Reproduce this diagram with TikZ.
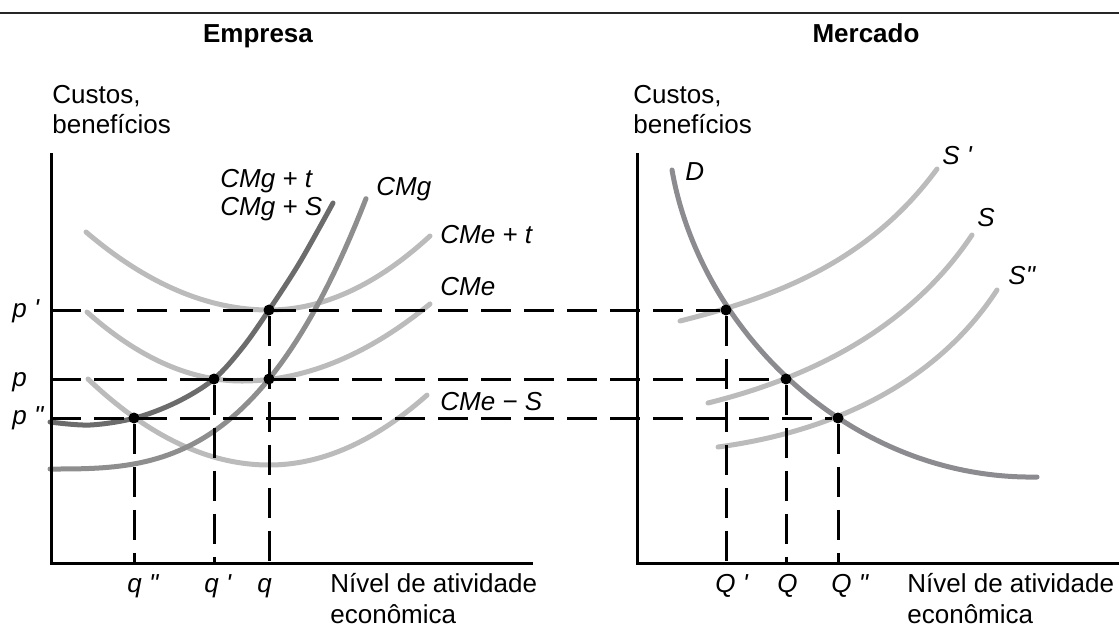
\documentclass[tikz,border=0pt]{standalone}
\usepackage{fontspec}
\setmainfont{Liberation Sans}
\definecolor{cLight}{HTML}{BBBBBB}
\definecolor{cMid}{HTML}{8E8E8E}
\definecolor{cDark}{HTML}{6C6C6C}
\definecolor{cD}{HTML}{8C8C90}
\tikzset{
  lbl/.style={inner sep=0pt, anchor=base west, font=\fontsize{13}{15}\selectfont},
  ilbl/.style={inner sep=0pt, anchor=base west, font=\fontsize{13}{15}\selectfont\itshape},
  ttl/.style={inner sep=0pt, anchor=base, font=\fontsize{13}{15}\selectfont\bfseries},
  ax/.style={line width=1.5pt, black},
  guide/.style={line width=1.5pt, black, dash pattern=on 15pt off 6.5pt},
  crv/.style={line width=2.5pt, line cap=round, line join=round},
  dotm/.style={circle, fill=black, inner sep=0pt, minimum size=5.5pt},
}
\begin{document}
\begin{tikzpicture}[x=0.5pt, y=-0.5pt]
\useasboundingbox (0,0) rectangle (1119,628);
% top rule
\coordinate (r0) at (0,13);
\coordinate (r1) at (1119,13);
\draw[line width=1.3pt, black!85] (r0) -- (r1);
% titles
\node[ttl] (tE) at (258,42) {Empresa};
\node[ttl] (tM) at (866,42) {Mercado};
% axis titles
\node[lbl] (yL1) at (52,103) {Custos,};
\node[lbl] (yL2) at (52,133) {benefícios};
\node[lbl] (yR1) at (633,103) {Custos,};
\node[lbl] (yR2) at (633,133) {benefícios};
\node[lbl] (xL1) at (330,592) {Nível de atividade};
\node[lbl] (xL2) at (330,623) {econômica};
\node[lbl] (xR1) at (907,592) {Nível de atividade};
\node[lbl] (xR2) at (907,623) {econômica};
% axes
\coordinate (LT) at (51,153);
\coordinate (LO) at (51,563);
\coordinate (LR) at (533,563);
\coordinate (RT) at (637,153);
\coordinate (RO) at (637,563);
\coordinate (RR) at (1119,563);
% curves, firm
\draw[crv, cLight]
  plot[domain=86:269, samples=40] (\x,{310-23.29*((\x-269)/100)*((\x-269)/100)})
  -- plot[domain=269:430, samples=40] (\x,{310-28.55*((\x-269)/100)*((\x-269)/100)});
\draw[crv, cLight]
  plot[domain=87:242, samples=40] (\x,{381-28.7*((\x-242)/100)*((\x-242)/100)})
  -- plot[domain=242:430, samples=40] (\x,{381-21.8*((\x-242)/100)*((\x-242)/100)});
\draw[crv, cLight]
  plot[domain=88:269, samples=40] (\x,{465-26.25*((\x-269)/100)*((\x-269)/100)})
  -- plot[domain=269:427, samples=40] (\x,{465-28.0*((\x-269)/100)*((\x-269)/100)});
\draw[crv, cMid]
  plot[domain=50:366, samples=60] (\x,{469-8.57*((\x-50)/100)*((\x-50)/100)*((\x-50)/100)});
\draw[crv, cDark] plot[smooth, tension=0.55] coordinates {(50,422) (90,425) (135,418) (177,402) (214,379) (243,347) (269,310) (300,262) (333,203)};
% curves, market
\draw[crv, cLight] (680,321) .. controls (780,296) and (870,260) .. (937,169);
\draw[crv, cLight] (708,403) .. controls (800,380) and (905,335) .. (972,235);
\draw[crv, cLight] (718,447) .. controls (830,432) and (935,385) .. (997,290);
\draw[crv, cD] (672,170) .. controls (700,330) and (850,480) .. (1037,477);
% axes drawn
\draw[ax] (LT) -- (LO) -- (LR);
\draw[ax] (RT) -- (RO) -- (RR);
% equilibrium points
\node[dotm] (e1) at (269,310) {};
\node[dotm] (e2) at (214,379) {};
\node[dotm] (e3) at (269,379) {};
\node[dotm] (e4) at (134,418) {};
\node[dotm] (m1) at (726,310) {};
\node[dotm] (m2) at (786,379) {};
\node[dotm] (m3) at (838,418) {};
\coordinate (h1) at (51,310);
\coordinate (h2) at (51,379);
\coordinate (h3) at (51,418);
% guides
\draw[guide] (h1) -- (m1);
\draw[guide] (h2) -- (m2);
\draw[guide] (h3) -- (m3);
\draw[guide] (e1) -- (e1 |- LO);
\draw[guide] (e2) -- (e2 |- LO);
\draw[guide] (e4) -- (e4 |- LO);
\draw[guide] (m1) -- (m1 |- RO);
\draw[guide] (m2) -- (m2 |- RO);
\draw[guide] (m3) -- (m3 |- RO);
% price labels
\node[ilbl] (pp1) at (12,317) {p \textquotesingle};
\node[ilbl] (pp0) at (12,386) {p};
\node[ilbl] (pp2) at (12,424) {p \textquotedbl};
% quantity labels
\node[ilbl] (q2) at (127,592) {q \textquotedbl};
\node[ilbl] (q1) at (204,592) {q \textquotesingle};
\node[ilbl] (q0) at (257,592) {q};
\node[ilbl] (Q1) at (715,592) {Q \textquotesingle};
\node[ilbl] (Q0) at (777,592) {Q};
\node[ilbl] (Q2) at (831,592) {Q \textquotedbl};
% curve labels
\node[ilbl] (lCMgt) at (220,187) {CMg + t};
\node[ilbl] (lCMgS) at (220,215) {CMg + S};
\node[ilbl] (lCMg) at (376,195) {CMg};
\node[ilbl] (lCMet) at (440,243) {CMe + t};
\node[ilbl] (lCMe) at (440,295) {CMe};
\node[ilbl] (lCMeS) at (440,410) {CMe − S};
\node[ilbl] (lD) at (685,180) {D};
\node[ilbl] (lS1) at (942,164) {S \textquotesingle};
\node[ilbl] (lS0) at (977,226) {S};
\node[ilbl] (lS2) at (1008,284) {S\textquotedbl};
\end{tikzpicture}
\end{document}
